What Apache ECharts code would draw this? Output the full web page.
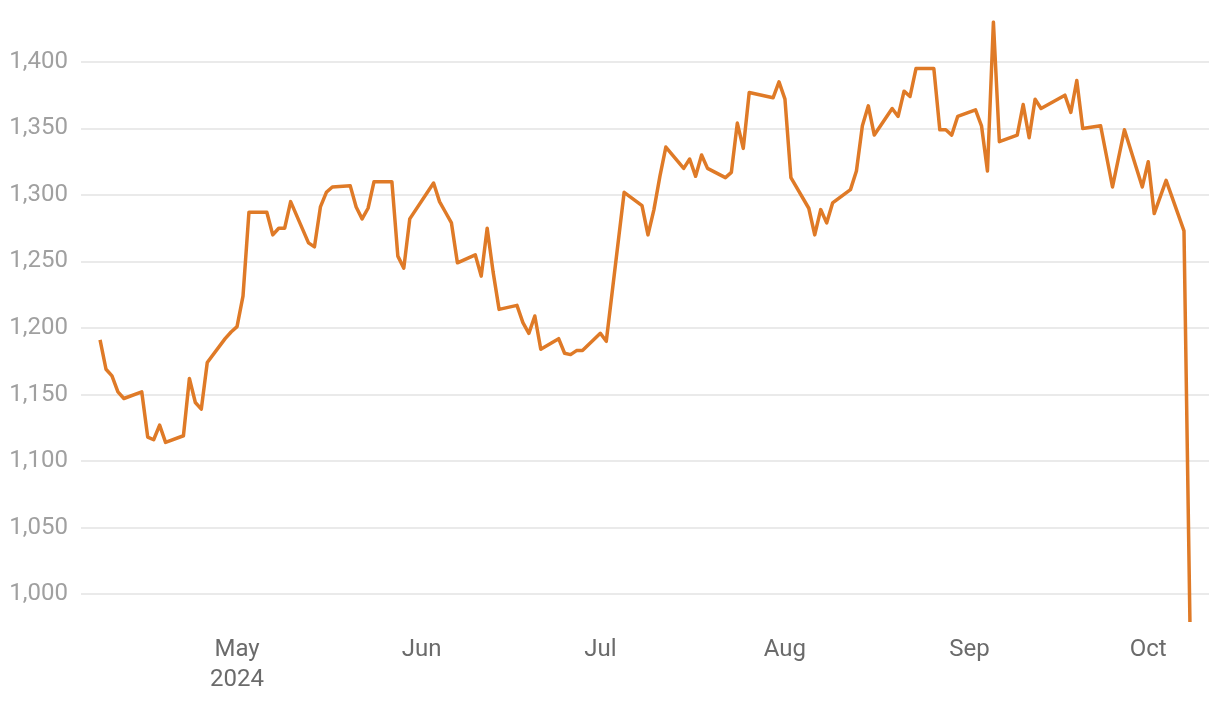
<!DOCTYPE html>
<html>
<head>
<meta charset="utf-8">
<script src="https://cdn.jsdelivr.net/npm/echarts@6/dist/echarts.min.js"></script>
<style>
  html, body { margin: 0; padding: 0; background: #ffffff; }
  #chart { width: 1220px; height: 702px; }
</style>
</head>
<body>
<div id="chart"></div>
<script>
const dates = ['2024-04-08','2024-04-09','2024-04-10','2024-04-11','2024-04-12','2024-04-15','2024-04-16','2024-04-17','2024-04-18','2024-04-19','2024-04-22','2024-04-23','2024-04-24','2024-04-25','2024-04-26','2024-04-29','2024-04-30','2024-05-01','2024-05-02','2024-05-03','2024-05-06','2024-05-07','2024-05-08','2024-05-09','2024-05-10','2024-05-13','2024-05-14','2024-05-15','2024-05-16','2024-05-17','2024-05-20','2024-05-21','2024-05-22','2024-05-23','2024-05-24','2024-05-27','2024-05-28','2024-05-29','2024-05-30','2024-06-03','2024-06-04','2024-06-05','2024-06-06','2024-06-07','2024-06-10','2024-06-11','2024-06-12','2024-06-13','2024-06-14','2024-06-17','2024-06-18','2024-06-19','2024-06-20','2024-06-21','2024-06-24','2024-06-25','2024-06-26','2024-06-27','2024-06-28','2024-07-01','2024-07-02','2024-07-05','2024-07-08','2024-07-09','2024-07-10','2024-07-11','2024-07-12','2024-07-15','2024-07-16','2024-07-17','2024-07-18','2024-07-19','2024-07-22','2024-07-23','2024-07-24','2024-07-25','2024-07-26','2024-07-30','2024-07-31','2024-08-01','2024-08-02','2024-08-05','2024-08-06','2024-08-07','2024-08-08','2024-08-09','2024-08-12','2024-08-13','2024-08-14','2024-08-15','2024-08-16','2024-08-19','2024-08-20','2024-08-21','2024-08-22','2024-08-23','2024-08-26','2024-08-27','2024-08-28','2024-08-29','2024-08-30','2024-09-02','2024-09-03','2024-09-04','2024-09-05','2024-09-06','2024-09-09','2024-09-10','2024-09-11','2024-09-12','2024-09-13','2024-09-17','2024-09-18','2024-09-19','2024-09-20','2024-09-23','2024-09-25','2024-09-27','2024-09-30','2024-10-01','2024-10-02','2024-10-04','2024-10-07','2024-10-08'];

const prices = [1191,1169,1164,1152,1147,1152,1118,1116,1127,1114,1119,1162,1144,1139,1174,1192,1197,1201,1224,1287,1287,1270,1275,1275,1295,1264,1261,1291,1302,1306,1307,1291,1282,1290,1310,1310,1254,1245,1282,1309,1295,1287,1279,1249,1255,1239,1275,1242,1214,1217,1204,1196,1209,1184,1192,1181,1180,1183,1183,1196,1190,1302,1292,1270,1289,1314,1336,1320,1327,1314,1330,1320,1313,1317,1354,1335,1377,1373,1385,1372,1313,1290,1270,1289,1279,1294,1304,1318,1352,1367,1345,1365,1359,1378,1374,1395,1395,1349,1349,1345,1359,1364,1352,1318,1430,1340,1345,1368,1343,1372,1365,1375,1362,1386,1350,1352,1306,1349,1306,1325,1286,1311,1273,979];

const yTicks = [1000, 1050, 1100, 1150, 1200, 1250, 1300, 1350, 1400];

const xTickDates = ['2024-05-01','2024-06-01','2024-07-01','2024-08-01','2024-09-01','2024-10-01'];
const xTickLabels = ['May\n2024','Jun','Jul','Aug','Sep','Oct'];

function toTs(s) {
  const p = s.split('-').map(Number);
  return Date.UTC(p[0], p[1] - 1, p[2]);
}

const DAY = 86400000;
const seriesData = dates.map((d, i) => [toTs(d), prices[i]]);
const xTickTs = xTickDates.map(toTs);
function xLabel(v) {
  let best = -1, bd = Infinity;
  xTickTs.forEach((t, i) => { const d = Math.abs(t - v); if (d < bd) { bd = d; best = i; } });
  return bd < DAY ? xTickLabels[best] : '';
}

const firstTs = seriesData[0][0];
const lastTs = seriesData[seriesData.length - 1][0];
const pad = 3.2 * DAY;

const chart = echarts.init(document.getElementById('chart'), null, { renderer: 'canvas' });
chart.setOption({
  animation: false,
  backgroundColor: '#ffffff',
  grid: { left: 81, right: 11, top: 22, bottom: 80, containLabel: false },
  xAxis: {
    type: 'value',
    min: firstTs - pad,
    max: lastTs + pad,
    axisLine: { show: false },
    axisTick: { show: false, customValues: xTickTs },
    splitLine: { show: false },
    axisLabel: {
      customValues: xTickTs,
      formatter: xLabel,
      color: '#6b6b6b',
      fontFamily: 'Roboto',
      fontSize: 24,
      lineHeight: 30,
      margin: 13,
      showMinLabel: true,
      showMaxLabel: true
    }
  },
  yAxis: {
    type: 'value',
    min: 'dataMin',
    max: 'dataMax',
    axisLine: { show: false },
    axisTick: { show: false, customValues: yTicks },
    splitLine: { show: true, lineStyle: { color: '#e3e3e3', width: 1.5 } },
    axisLabel: {
      customValues: yTicks,
      formatter: function (v) { return Number(v).toLocaleString('en-US'); },
      color: '#a0a0a0',
      fontFamily: 'Roboto',
      fontSize: 24,
      margin: 13
    }
  },
  series: [{
    type: 'line',
    data: seriesData,
    showSymbol: false,
    symbol: 'none',
    lineStyle: { color: '#DF7A27', width: 3.5, join: 'round' },
    itemStyle: { color: '#DF7A27' }
  }]
});
</script>
</body>
</html>
